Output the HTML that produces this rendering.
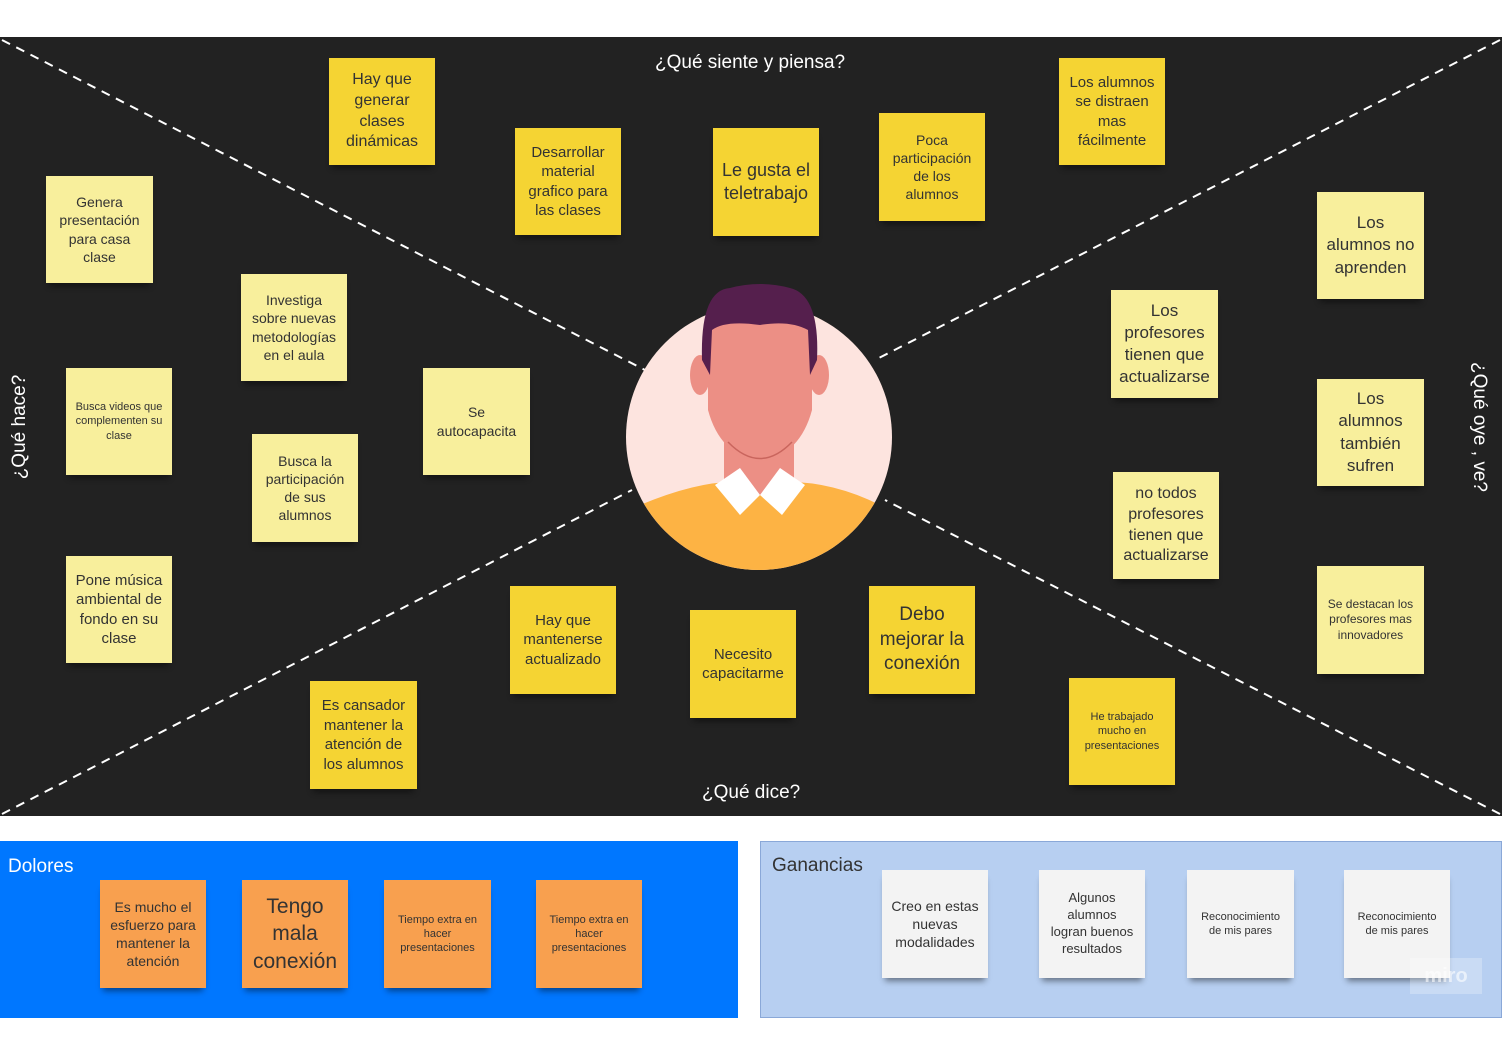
<!DOCTYPE html>
<html><head><meta charset="utf-8">
<style>
body{margin:0;width:1502px;height:1039px;background:#fff;position:relative;overflow:hidden;font-family:"Liberation Sans",sans-serif}
.n{position:absolute;display:flex;align-items:center;justify-content:center;text-align:center;color:#333;box-shadow:0 6px 6px -3px rgba(0,0,0,.45);line-height:1.3;box-sizing:border-box;padding:4px 9px}
.y{background:#f5d433}
.p{background:#f8ef9c}
.o{background:#f8a04f}
.w{background:#f3f3f3}
.lab{position:absolute;color:#fff;font-size:19px;white-space:nowrap}
</style></head><body>
<div style="position:absolute;left:0;top:37px;width:1502px;height:779px;background:#222"></div>
<svg style="position:absolute;left:0;top:0" width="1502" height="1039">
<g stroke="#fff" stroke-width="2" stroke-dasharray="9,7">
<line x1="2" y1="40" x2="645" y2="370"/>
<line x1="1500" y1="40" x2="875" y2="360"/>
<line x1="2" y1="814" x2="632" y2="490"/>
<line x1="1500" y1="814" x2="885" y2="500"/>
</g>
<circle cx="759" cy="437" r="133" fill="#fde4df"/>
<clipPath id="c"><circle cx="759" cy="437" r="133"/></clipPath>
<g clip-path="url(#c)">
<path d="M640 505 Q700 480 740 482 L780 482 Q830 480 880 505 L900 600 L620 600Z" fill="#fdb344"/>
</g>
<rect x="724" y="430" width="70" height="65" fill="#ec8f85"/>
<path d="M715 485 L740 468 L760 495 L740 515Z" fill="#fff"/>
<path d="M805 485 L780 468 L760 495 L782 515Z" fill="#fff"/>
<ellipse cx="700" cy="375" rx="10" ry="20" fill="#ec8f85"/>
<ellipse cx="819" cy="375" rx="10" ry="20" fill="#ec8f85"/>
<path d="M708 330 Q708 300 760 300 Q812 300 812 330 L812 410 Q800 455 760 462 Q720 455 708 410Z" fill="#ec8f85"/>
<path d="M702 360 Q700 290 730 288 Q760 280 790 288 Q820 295 817 360 L810 375 L808 330 Q790 320 760 325 Q725 320 712 330 L710 375Z" fill="#551f4d"/>
<path d="M728 442 Q760 475 792 442" stroke="#c9655d" stroke-width="1.5" fill="none"/>
</svg>
<div class="lab" style="left:655px;top:52px">¿Qué siente y piensa?</div>
<div class="lab" style="left:702px;top:782px">¿Qué dice?</div>
<div class="lab" style="left:-40px;top:416px;transform:rotate(-90deg);width:120px;text-align:center">¿Qué hace?</div>
<div class="lab" style="left:1414px;top:416px;transform:rotate(90deg);width:130px;text-align:center">¿Qué oye , ve?</div>

<div class="n y" style="left:329px;top:58px;width:106px;height:107px;font-size:16px">Hay que generar clases dinámicas</div>
<div class="n y" style="left:515px;top:128px;width:106px;height:107px;font-size:15px">Desarrollar material grafico para las clases</div>
<div class="n y" style="left:713px;top:128px;width:106px;height:108px;font-size:18px;padding:4px 3px">Le gusta el teletrabajo</div>
<div class="n y" style="left:879px;top:113px;width:106px;height:108px;font-size:14px">Poca participación de los alumnos</div>
<div class="n y" style="left:1059px;top:58px;width:106px;height:107px;font-size:15px">Los alumnos se distraen mas fácilmente</div>
<div class="n p" style="left:46px;top:176px;width:107px;height:107px;font-size:14px">Genera presentación para casa clase</div>
<div class="n p" style="left:241px;top:274px;width:106px;height:107px;font-size:14px">Investiga sobre nuevas metodologías en el aula</div>
<div class="n p" style="left:66px;top:368px;width:106px;height:107px;font-size:11px">Busca videos que complementen su clase</div>
<div class="n p" style="left:423px;top:368px;width:107px;height:107px;font-size:14px">Se autocapacita</div>
<div class="n p" style="left:252px;top:434px;width:106px;height:108px;font-size:14px">Busca la participación de sus alumnos</div>
<div class="n p" style="left:66px;top:556px;width:106px;height:107px;font-size:15px">Pone música ambiental de fondo en su clase</div>
<div class="n p" style="left:1317px;top:192px;width:107px;height:107px;font-size:17px">Los alumnos no aprenden</div>
<div class="n p" style="left:1111px;top:290px;width:107px;height:108px;font-size:17px">Los profesores tienen que actualizarse</div>
<div class="n p" style="left:1317px;top:379px;width:107px;height:107px;font-size:17px">Los alumnos también sufren</div>
<div class="n p" style="left:1113px;top:472px;width:106px;height:107px;font-size:16px">no todos profesores tienen que actualizarse</div>
<div class="n p" style="left:1317px;top:566px;width:107px;height:108px;font-size:12px">Se destacan los profesores mas innovadores</div>
<div class="n y" style="left:510px;top:586px;width:106px;height:108px;font-size:15px">Hay que mantenerse actualizado</div>
<div class="n y" style="left:690px;top:610px;width:106px;height:108px;font-size:15px">Necesito capacitarme</div>
<div class="n y" style="left:869px;top:586px;width:106px;height:108px;font-size:19px">Debo mejorar la conexión</div>
<div class="n y" style="left:310px;top:681px;width:107px;height:108px;font-size:15px">Es cansador mantener la atención de los alumnos</div>
<div class="n y" style="left:1069px;top:678px;width:106px;height:107px;font-size:11px">He trabajado mucho en presentaciones</div>

<div style="position:absolute;left:0;top:841px;width:738px;height:177px;background:#0077ff"></div>
<div class="lab" style="left:8px;top:856px">Dolores</div>
<div class="n o" style="left:100px;top:880px;width:106px;height:108px;font-size:14px">Es mucho el esfuerzo para mantener la atención</div>
<div class="n o" style="left:242px;top:880px;width:106px;height:108px;font-size:21px">Tengo mala conexión</div>
<div class="n o" style="left:384px;top:880px;width:107px;height:108px;font-size:11px">Tiempo extra en hacer presentaciones</div>
<div class="n o" style="left:536px;top:880px;width:106px;height:108px;font-size:11px">Tiempo extra en hacer presentaciones</div>

<div style="position:absolute;left:760px;top:841px;width:742px;height:177px;background:#b7cff1;border:1px solid #8aa8d8;box-sizing:border-box"></div>
<div class="lab" style="left:772px;top:855px;color:#333">Ganancias</div>
<div class="n w" style="left:882px;top:870px;width:106px;height:108px;font-size:14px">Creo en estas nuevas modalidades</div>
<div class="n w" style="left:1039px;top:870px;width:106px;height:108px;font-size:13px">Algunos alumnos logran buenos resultados</div>
<div class="n w" style="left:1187px;top:870px;width:107px;height:108px;font-size:11px">Reconocimiento de mis pares</div>
<div class="n w" style="left:1344px;top:870px;width:106px;height:108px;font-size:11px">Reconocimiento de mis pares</div>
<div style="position:absolute;left:1410px;top:958px;width:72px;height:36px;background:rgba(255,255,255,.25);color:rgba(255,255,255,.6);font-size:20px;font-weight:bold;text-align:center;line-height:36px">miro</div>
</body></html>
